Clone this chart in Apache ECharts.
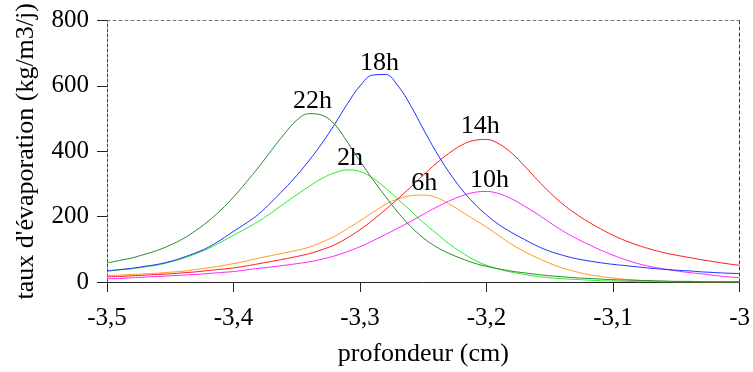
<!DOCTYPE html>
<html>
<head>
<meta charset="utf-8">
<script src="https://cdn.jsdelivr.net/npm/echarts@6/dist/echarts.min.js"></script>
<style>
html,body{margin:0;padding:0;background:#fff;}
#chart{width:753px;height:372px;}
</style>
</head>
<body>
<div id="chart"></div>
<script>
// Depth (cm)
const depth = [-3.50,-3.49,-3.48,-3.47,-3.46,-3.45,-3.44,-3.43,-3.42,-3.41,
  -3.40,-3.39,-3.38,-3.37,-3.36,-3.35,-3.34,-3.33,-3.32,-3.31,
  -3.30,-3.29,-3.28,-3.27,-3.26,-3.25,-3.24,-3.23,-3.22,-3.21,
  -3.20,-3.19,-3.18,-3.17,-3.16,-3.15,-3.14,-3.13,-3.12,-3.11,
  -3.10,-3.09,-3.08,-3.07,-3.06,-3.05,-3.04,-3.03,-3.02,-3.01,-3.00];
// Evaporation rate (kg/m3/j) per hour
const h22 = [58,66,74,85,97,113,132,157,186,220,
  260,305,352,403,452,495,515,510,482,428,
  370,314,262,213,170,135,108,88,72,58,
  48,40,33,28,23,19,16,13,11,9,
  7,6,5,4,3,2,2,1,1,1,1];
const h18 = [34,38,42,48,54,63,75,89,106,129,
  155,180,208,245,284,326,373,425,483,545,
  600,633,635,600,540,468,399,338,285,241,
  205,175,151,130,110,94,82,72,65,59,
  54,50,46,42,39,36,34,31,29,27,26];
const h2  = [33,37,41,46,52,61,72,86,102,122,
  143,164,186,212,240,267,293,317,334,343,
  338,318,288,253,218,182,150,118,91,68,
  51,39,30,23,17,13,10,8,6,4,
  3,2,1,1,0,0,0,0,0,0,0];
const h6  = [20,21,23,25,27,30,33,38,43,49,
  56,64,73,81,89,97,107,122,140,163,
  187,213,237,254,264,266,259,240,216,192,
  168,141,115,93,74,57,43,32,23,17,
  12,8,5,3,2,1,1,0,0,0,0];
const h14 = [16,17,19,21,23,25,28,31,35,39,
  43,49,56,63,70,78,87,99,114,135,
  160,189,221,255,290,327,362,393,418,433,
  436,422,394,355,313,274,239,210,185,163,
  143,126,112,100,90,82,75,68,62,56,51];
const h10 = [10,11,13,15,17,19,21,23,26,29,
  32,37,42,46,51,56,62,70,80,93,
  108,126,145,165,185,207,228,247,263,274,
  277,270,254,232,208,182,157,135,116,98,
  82,68,56,47,40,34,29,25,20,16,13];
// Curve labels and their anchor (depth, value)
const curveNames = ['2h','6h','10h','14h','18h','22h'];
const labelDepth = [-3.308,-3.2492,-3.1976,-3.205,-3.2847,-3.3375];
const labelValue = [380,302,313,478,670,553];
// Axis ticks
const xTicks = [-3.5,-3.4,-3.3,-3.2,-3.1,-3.0];
const yTicks = [0,200,400,600,800];

const seriesData = [h2,h6,h10,h14,h18,h22];
const colors = ['#22ee22','#ff9a1e','#ff22ff','#ff1a1a','#1f2fff','#2a8a2a'];
const FONT = '"Liberation Serif","Times New Roman",serif';

const series = seriesData.map((vals,i)=>({
  type:'line',
  name:curveNames[i],
  data:depth.map((d,j)=>[d,vals[j]]),
  smooth:0.4,
  showSymbol:false,
  lineStyle:{color:colors[i],width:1},
  itemStyle:{color:colors[i]},
  emphasis:{disabled:true},
  silent:true,
  z:2
}));

const chart = echarts.init(document.getElementById('chart'),null,{renderer:'canvas'});
chart.setOption({
  animation:false,
  backgroundColor:'#fff',
  grid:{left:107,right:12,top:20.5,bottom:89.5,containLabel:false},
  xAxis:[{
    type:'value',min:-3.5,max:-3.0,interval:0.1,
    position:'bottom',
    name:'profondeur (cm)',nameLocation:'middle',nameGap:59,
    nameTextStyle:{fontFamily:FONT,fontSize:26,color:'#000'},
    axisLine:{show:true,onZero:false,lineStyle:{color:'#222',width:1}},
    axisTick:{show:true,inside:false,length:10,lineStyle:{color:'#222'}},
    axisLabel:{margin:24,fontFamily:FONT,fontSize:25,color:'#000',
      formatter:v=>{const t=xTicks.find(k=>Math.abs(k-v)<1e-6);return (t===undefined?v:t).toString().replace('.',',');}},
    splitLine:{show:false}
  },{
    type:'value',min:-3.5,max:-3.0,position:'top',
    axisLine:{show:true,onZero:false,lineStyle:{color:'#777',width:1,type:[3,3]}},
    axisTick:{show:false},axisLabel:{show:false},splitLine:{show:false}
  }],
  yAxis:[{
    type:'value',min:0,max:800,interval:200,
    position:'left',
    name:"taux d'évaporation (kg/m3/j)",nameLocation:'middle',nameGap:68,nameRotate:90,
    nameTextStyle:{fontFamily:FONT,fontSize:26,color:'#000'},
    axisLine:{show:true,onZero:false,lineStyle:{color:'#444',width:1,type:[3,2]}},
    axisTick:{show:true,inside:false,length:10,lineStyle:{color:'#222'}},
    axisLabel:{margin:18,fontFamily:FONT,fontSize:25,color:'#000'},
    splitLine:{show:false}
  },{
    type:'value',min:0,max:800,position:'right',
    axisLine:{show:true,onZero:false,lineStyle:{color:'#333',width:1,type:[3,3]}},
    axisTick:{show:false},axisLabel:{show:false},splitLine:{show:false}
  }],
  series:series
});

// Curve labels placed at data coordinates through the chart's own scales
const graphics = curveNames.map((n,i)=>{
  const p = chart.convertToPixel({xAxisIndex:0,yAxisIndex:0},[labelDepth[i],labelValue[i]]);
  return {type:'text',x:p[0],y:p[1],z:10,silent:true,
    style:{text:n,fill:'#000',font:'26px '+FONT,textAlign:'center',textVerticalAlign:'middle'}};
});
chart.setOption({graphic:graphics});
</script>
</body>
</html>
